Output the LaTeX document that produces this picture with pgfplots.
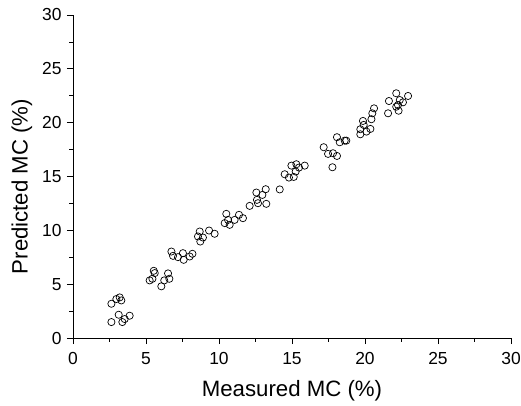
\documentclass[border=0pt]{standalone}
\usepackage{fontspec}
\setmainfont{Liberation Sans}
\usepackage{pgfplots}
\pgfplotsset{compat=1.18}
\begin{document}
\begin{tikzpicture}
\begin{axis}[
  scale only axis,
  width=438bp, height=323bp,
  xmin=0, xmax=30, ymin=0, ymax=30,
  xtick={0,5,...,30}, ytick={0,5,...,30},
  minor tick num=1,
  axis x line=bottom, axis y line=left,
  axis line style={-, line width=0.8bp},
  tick align=outside,
  major tick length=6bp, minor tick length=3.5bp,
  every tick/.style={black, line width=0.8bp},
  /pgf/number format/assume math mode=true,
  tick label style={font=\fontsize{17.5}{20}\selectfont},
  xticklabel style={yshift=-5bp},
  yticklabel style={xshift=-2bp},
  label style={font=\fontsize{22.3}{26}\selectfont},
  xlabel={Measured MC (\%)},
  ylabel={Predicted MC (\%)},
  xlabel style={at={(axis description cs:0.5,0)}, anchor=center, yshift=-53bp},
  ylabel style={at={(axis description cs:0,0.5)}, anchor=center, yshift=51bp, xshift=-10bp},
  clip=false,
]
\addplot[only marks, mark=o, mark size=3.6bp, mark options={draw=black, fill=white, line width=0.7bp}] table {
x y
2.63 3.18
2.97 3.62
3.20 3.77
3.31 3.49
2.63 1.48
3.13 2.16
3.38 1.48
3.54 1.76
3.88 2.07
5.25 5.35
5.44 5.50
5.53 6.24
5.60 6.03
6.05 4.80
6.25 5.35
6.51 6.00
6.60 5.50
6.74 8.03
6.85 7.63
7.19 7.51
7.53 7.88
7.58 7.26
7.99 7.57
8.18 7.82
8.56 9.43
8.68 9.89
8.72 8.96
8.90 9.33
9.32 9.98
9.70 9.68
10.39 10.67
10.50 11.53
10.62 10.97
10.73 10.51
11.07 10.97
11.37 11.44
11.64 11.13
12.10 12.27
12.56 13.51
12.60 12.83
12.67 12.52
12.97 13.29
13.20 13.82
13.24 12.46
14.16 13.80
14.50 15.21
14.79 14.90
15.12 14.96
15.25 15.46
14.96 16.01
15.30 16.14
15.48 15.83
15.87 16.01
17.77 15.86
17.17 17.72
17.47 17.10
17.81 17.16
18.08 16.91
18.08 18.65
18.27 18.18
18.61 18.33
18.72 18.33
19.68 18.92
19.68 19.39
19.86 20.16
19.91 19.79
20.10 19.17
20.37 19.42
20.44 20.32
20.50 20.87
20.62 21.33
21.58 20.87
21.64 22.01
22.14 22.73
22.38 22.10
22.26 21.64
22.14 21.48
22.30 21.11
22.60 21.89
22.95 22.48
};
\end{axis}
\pgfresetboundingbox
\path[use as bounding box] ([shift={(-73bp,-68bp)}]current axis.south west) rectangle ([shift={(10bp,15bp)}]current axis.north east);
\end{tikzpicture}
\end{document}
